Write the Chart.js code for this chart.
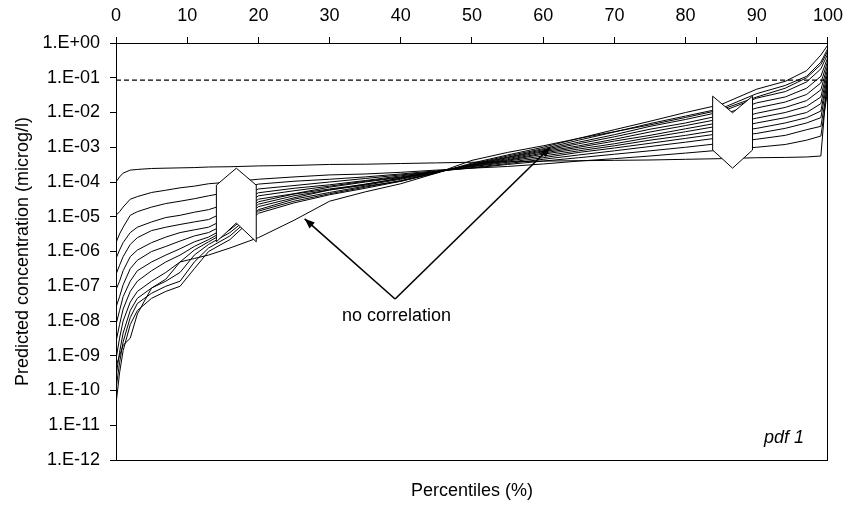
<!DOCTYPE html>
<html>
<head>
<meta charset="utf-8">
<script src="https://cdn.jsdelivr.net/npm/chart.js@4.4.1/dist/chart.umd.min.js"></script>
<style>
  html, body { margin: 0; padding: 0; background: #fff; }
</style>
</head>
<body>
<canvas id="pdf_chart" width="853" height="506"></canvas>
<script>
/////////////////////////////////// DATA ///////////////////////////////////
// percentile grid shared by every curve (%)
const percentiles = [0, 0.5, 1, 2, 3, 5, 7, 9, 11, 13, 16, 20, 25, 30, 35, 40, 45, 50, 55, 60, 65, 70, 75, 80, 85, 90, 94, 97, 99, 100];

// predicted concentration (microg/l) at each percentile, one array per run
const curve0 = [1.0e-4, 1.4e-4, 1.8e-4, 2.2e-4, 2.3e-4, 2.45e-4, 2.5e-4, 2.55e-4, 2.6e-4, 2.7e-4, 2.75e-4, 2.9e-4, 3.0e-4, 3.2e-4, 3.25e-4, 3.4e-4, 3.55e-4, 3.7e-4, 3.8e-4, 4.0e-4, 4.1e-4, 4.2e-4, 4.3e-4, 4.5e-4, 4.7e-4, 5.0e-4, 5.1e-4, 5.25e-4, 5.6e-4, 0.17];
const curve1 = [1.1e-5, 1.4e-5, 1.9e-5, 3.2e-5, 3.8e-5, 5.0e-5, 5.8e-5, 6.8e-5, 7.6e-5, 8.9e-5, 1.0e-4, 1.2e-4, 1.4e-4, 1.6e-4, 1.7e-4, 1.9e-4, 2.2e-4, 2.5e-4, 2.8e-4, 3.3e-4, 4.0e-4, 4.7e-4, 5.6e-4, 6.8e-4, 8.3e-4, 1.0e-3, 1.2e-3, 1.6e-3, 2.1e-3, 5.0e-2];
const curve2 = [1.8e-6, 3.2e-6, 5.0e-6, 1.1e-5, 1.4e-5, 1.9e-5, 2.4e-5, 2.8e-5, 3.3e-5, 4.0e-5, 5.2e-5, 8.7e-5, 1.05e-4, 1.2e-4, 1.4e-4, 1.7e-4, 2.1e-4, 2.5e-4, 3.2e-4, 4.0e-4, 5.0e-4, 6.3e-4, 7.9e-4, 1.0e-3, 1.3e-3, 1.7e-3, 2.2e-3, 3.2e-3, 4.0e-3, 6.3e-2];
const curve3 = [6.3e-7, 1.1e-6, 1.8e-6, 3.5e-6, 5.0e-6, 7.1e-6, 9.5e-6, 1.1e-5, 1.35e-5, 1.6e-5, 2.5e-5, 6.3e-5, 7.9e-5, 1.0e-4, 1.26e-4, 1.6e-4, 2.0e-4, 2.6e-4, 3.4e-4, 4.5e-4, 6.0e-4, 7.9e-4, 1.05e-3, 1.4e-3, 1.9e-3, 2.5e-3, 3.5e-3, 5.0e-3, 7.1e-3, 0.1];
const curve4 = [2.2e-7, 4.0e-7, 7.1e-7, 1.6e-6, 2.5e-6, 4.0e-6, 5.0e-6, 6.0e-6, 7.1e-6, 8.3e-6, 1.6e-5, 4.9e-5, 6.6e-5, 8.3e-5, 1.1e-4, 1.5e-4, 2.0e-4, 2.75e-4, 3.7e-4, 5.0e-4, 7.1e-4, 9.5e-4, 1.3e-3, 1.8e-3, 2.5e-3, 3.5e-3, 5.0e-3, 7.1e-3, 1.1e-2, 0.13];
const curve5 = [7.9e-8, 1.4e-7, 2.8e-7, 7.1e-7, 1.1e-6, 1.8e-6, 2.6e-6, 3.5e-6, 4.2e-6, 5.0e-6, 1.0e-5, 4.0e-5, 5.6e-5, 7.6e-5, 1.05e-4, 1.4e-4, 2.0e-4, 2.8e-4, 4.0e-4, 5.6e-4, 7.9e-4, 1.1e-3, 1.6e-3, 2.2e-3, 3.2e-3, 5.0e-3, 7.1e-3, 1.0e-2, 1.8e-2, 0.16];
const curve6 = [2.5e-8, 5.0e-8, 1.1e-7, 3.2e-7, 5.6e-7, 1.0e-6, 1.4e-6, 2.0e-6, 2.8e-6, 3.5e-6, 7.1e-6, 3.2e-5, 4.6e-5, 7.1e-5, 1.0e-4, 1.35e-4, 2.0e-4, 2.9e-4, 4.2e-4, 6.3e-4, 8.9e-4, 1.26e-3, 1.9e-3, 2.8e-3, 4.2e-3, 6.9e-3, 1.0e-2, 1.5e-2, 2.8e-2, 0.2];
const curve7 = [7.9e-9, 2.0e-8, 5.0e-8, 1.4e-7, 2.8e-7, 5.0e-7, 7.9e-7, 1.2e-6, 1.9e-6, 2.6e-6, 5.6e-6, 2.7e-5, 4.5e-5, 6.3e-5, 8.5e-5, 1.3e-4, 2.0e-4, 3.0e-4, 4.4e-4, 6.8e-4, 1.0e-3, 1.5e-3, 2.2e-3, 3.4e-3, 5.2e-3, 9.5e-3, 1.4e-2, 2.2e-2, 4.5e-2, 0.25];
const curve8 = [2.5e-9, 7.9e-9, 2.2e-8, 7.1e-8, 1.4e-7, 2.8e-7, 5.0e-7, 7.9e-7, 1.4e-6, 2.2e-6, 4.8e-6, 2.3e-5, 4.0e-5, 5.9e-5, 8.7e-5, 1.26e-4, 1.95e-4, 3.0e-4, 4.7e-4, 7.4e-4, 1.1e-3, 1.7e-3, 2.75e-3, 4.2e-3, 6.6e-3, 1.35e-2, 2.0e-2, 3.3e-2, 7.1e-2, 0.32];
const curve9 = [7.9e-10, 3.2e-9, 1.0e-8, 3.5e-8, 7.1e-8, 1.4e-7, 2.5e-7, 5.0e-7, 1.1e-6, 1.9e-6, 4.2e-6, 1.95e-5, 3.5e-5, 5.9e-5, 8.1e-5, 1.2e-4, 1.9e-4, 3.1e-4, 5.0e-4, 7.9e-4, 1.26e-3, 2.0e-3, 3.3e-3, 5.0e-3, 8.3e-3, 1.9e-2, 2.8e-2, 5.0e-2, 0.11, 0.4];
const curve10 = [2.5e-10, 1.26e-9, 4.5e-9, 2.0e-8, 4.5e-8, 8.9e-8, 1.4e-7, 2.5e-7, 7.9e-7, 1.6e-6, 3.5e-6, 1.6e-5, 3.2e-5, 5.0e-5, 7.6e-5, 1.05e-4, 1.9e-4, 3.2e-4, 5.2e-4, 8.5e-4, 1.4e-3, 2.3e-3, 4.0e-3, 6.3e-3, 1.05e-2, 2.6e-2, 4.0e-2, 7.6e-2, 0.18, 0.5];
const curve11 = [1.1e-10, 6.3e-10, 2.5e-9, 1.26e-8, 3.2e-8, 6.3e-8, 1.0e-7, 1.4e-7, 5.0e-7, 1.26e-6, 2.8e-6, 1.45e-5, 2.8e-5, 4.6e-5, 7.1e-5, 1.1e-4, 1.86e-4, 3.3e-4, 5.6e-4, 9.1e-4, 1.6e-3, 2.75e-3, 4.8e-3, 7.9e-3, 1.3e-2, 3.5e-2, 6.0e-2, 0.11, 0.28, 0.71];
const curve12 = [4.0e-11, 3.2e-10, 1.4e-9, 7.9e-9, 2.0e-8, 4.5e-8, 7.1e-8, 1.0e-7, 3.2e-7, 1.0e-6, 2.2e-6, 1.26e-5, 2.5e-5, 4.3e-5, 6.6e-5, 1.05e-4, 1.8e-4, 3.5e-4, 6.0e-4, 1.0e-3, 1.8e-3, 3.2e-3, 5.6e-3, 1.0e-2, 1.7e-2, 4.7e-2, 7.9e-2, 0.16, 0.45, 0.89];
const curveNoCorr = [5.0e-10, 1.0e-9, 2.0e-9, 3.2e-9, 1.6e-8, 8.9e-8, 1.6e-7, 5.0e-7, 6.3e-7, 7.9e-7, 1.26e-6, 2.5e-6, 7.9e-6, 2.8e-5, 5.2e-5, 8.9e-5, 1.8e-4, 4.2e-4, 7.1e-4, 1.1e-3, 1.8e-3, 2.8e-3, 4.4e-3, 7.2e-3, 1.2e-2, 2.8e-2, 5.0e-2, 0.1, 0.24, 0.6];

// threshold concentration (dashed line)
const thresholdConc = 0.085;

// axis ticks
const xTicks = [0, 10, 20, 30, 40, 50, 60, 70, 80, 90, 100];
const yTicks = [1, 1e-1, 1e-2, 1e-3, 1e-4, 1e-5, 1e-6, 1e-7, 1e-8, 1e-9, 1e-10, 1e-11, 1e-12];
const yTickLabels = ['1.E+00', '1.E-01', '1.E-02', '1.E-03', '1.E-04', '1.E-05', '1.E-06', '1.E-07', '1.E-08', '1.E-09', '1.E-10', '1.E-11', '1.E-12'];

/////////////////////////////////// ANNOTATIONS ///////////////////////////////////
// block arrows, in (percentile, concentration)
const upArrow = [[14.1, 8.1e-5], [16.9, 2.5e-4], [19.7, 8.1e-5], [19.7, 1.9e-6], [16.9, 6.6e-6], [14.1, 1.9e-6]];
const downArrow = [[83.8, 2.95e-2], [86.6, 9.8e-3], [89.4, 2.95e-2], [89.4, 8.3e-4], [86.6, 2.5e-4], [83.8, 8.3e-4]];
// "no correlation" pointers
const pointerFrom = [39.2, 4.3e-8];
const pointerTips = [[26.5, 8.7e-6], [61.0, 1.0e-3]];
const noteAt = [39.4, 1.4e-8];

const FONT = "'Liberation Sans', Arial, sans-serif";

function drawHead(ctx, x0, y0, x1, y1) {
    const a = Math.atan2(y1 - y0, x1 - x0);
    const len = 10, half = 4;
    ctx.beginPath();
    ctx.moveTo(x1, y1);
    ctx.lineTo(x1 - len * Math.cos(a) + half * Math.sin(a), y1 - len * Math.sin(a) - half * Math.cos(a));
    ctx.lineTo(x1 - len * Math.cos(a) - half * Math.sin(a), y1 - len * Math.sin(a) + half * Math.cos(a));
    ctx.closePath();
    ctx.fill();
}

const annotationPlugin = {
    id: 'annotationPlugin',
    afterDatasetsDraw(chart) {
        const { ctx, chartArea, scales: { x, y } } = chart;
        ctx.save();

        // chevron arrows over the curves
        [upArrow, downArrow].forEach(shape => {
            ctx.beginPath();
            shape.forEach((p, i) => {
                const px = x.getPixelForValue(p[0]);
                const py = y.getPixelForValue(p[1]);
                if (i === 0) ctx.moveTo(px, py); else ctx.lineTo(px, py);
            });
            ctx.closePath();
            ctx.fillStyle = '#fff';
            ctx.fill();
            ctx.strokeStyle = '#000';
            ctx.lineWidth = 1;
            ctx.stroke();
        });

        // pointer lines
        const fx = x.getPixelForValue(pointerFrom[0]);
        const fy = y.getPixelForValue(pointerFrom[1]);
        ctx.strokeStyle = '#000';
        ctx.fillStyle = '#000';
        ctx.lineWidth = 1.6;
        pointerTips.forEach(t => {
            const tx = x.getPixelForValue(t[0]);
            const ty = y.getPixelForValue(t[1]);
            ctx.beginPath();
            ctx.moveTo(fx, fy);
            ctx.lineTo(tx, ty);
            ctx.stroke();
            drawHead(ctx, fx, fy, tx, ty);
        });

        ctx.font = '18px ' + FONT;
        ctx.textAlign = 'center';
        ctx.textBaseline = 'middle';
        ctx.fillText('no correlation', x.getPixelForValue(noteAt[0]), y.getPixelForValue(noteAt[1]));

        ctx.font = 'italic 18px ' + FONT;
        ctx.textAlign = 'right';
        ctx.textBaseline = 'alphabetic';
        ctx.fillText('pdf 1', chartArea.right - 24, chartArea.bottom - 17);

        ctx.restore();
    }
};

/////////////////////////////////// CHART ///////////////////////////////////
Chart.defaults.font.family = FONT;
Chart.defaults.font.size = 18;
Chart.defaults.color = '#000';

const curves = [curve0, curve1, curve2, curve3, curve4, curve5, curve6, curve7, curve8, curve9, curve10, curve11, curve12, curveNoCorr];

const datasets = curves.map((values, i) => ({
    label: 'run ' + i,
    data: values.map((v, k) => ({ x: percentiles[k], y: v })),
    borderColor: '#000',
    borderWidth: 1,
    pointRadius: 0,
    tension: 0,
    fill: false
}));

datasets.unshift({
    label: 'threshold',
    data: [{ x: 0, y: thresholdConc }, { x: 100, y: thresholdConc }],
    borderColor: '#000',
    borderWidth: 1.3,
    borderDash: [5, 3],
    pointRadius: 0,
    fill: false
});

const ctx_pdf = document.getElementById('pdf_chart');

const pdf_chart = new Chart(ctx_pdf, {
    type: 'line',
    data: { datasets: datasets },
    options: {
        responsive: false,
        animation: false,
        layout: { padding: 0 },
        plugins: {
            legend: { display: false },
            tooltip: { enabled: false }
        },
        scales: {
            x: {
                type: 'linear',
                position: 'top',
                min: 0,
                max: 100,
                afterBuildTicks: s => { s.ticks = xTicks.map(v => ({ value: v })); },
                afterFit: s => { s.height = 43; },
                ticks: { padding: 10, maxRotation: 0, autoSkip: false, callback: v => String(v) },
                grid: { drawOnChartArea: false, tickLength: 6, color: '#000' },
                border: { color: '#000' }
            },
            x2: {
                type: 'linear',
                position: 'bottom',
                min: 0,
                max: 100,
                afterFit: s => { s.height = 46; },
                ticks: { display: false },
                grid: { display: false },
                border: { color: '#000' },
                title: { display: true, text: 'Percentiles (%)', padding: { top: 0, bottom: 4 } }
            },
            y: {
                type: 'logarithmic',
                position: 'left',
                min: 1e-12,
                max: 1,
                afterBuildTicks: s => { s.ticks = yTicks.map(v => ({ value: v })); },
                afterFit: s => { s.width = 116; },
                ticks: { padding: 10, autoSkip: false, callback: (v, i) => yTickLabels[i] },
                grid: { drawOnChartArea: false, tickLength: 6, color: '#000' },
                border: { color: '#000' },
                title: { display: true, text: 'Predicted concentration (microg/l)', padding: { top: 12, bottom: 0 } }
            },
            y2: {
                type: 'linear',
                position: 'right',
                min: 0,
                max: 1,
                afterFit: s => { s.width = 21; },
                ticks: { display: false },
                grid: { display: false },
                border: { color: '#000' }
            }
        }
    },
    plugins: [annotationPlugin]
});
</script>
</body>
</html>
